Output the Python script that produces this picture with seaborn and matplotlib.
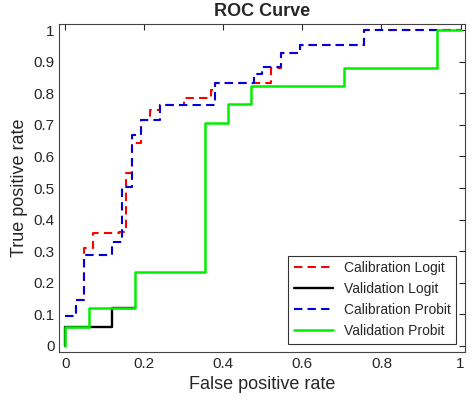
import matplotlib
matplotlib.use("Agg")
import matplotlib.pyplot as plt
import numpy as np
import seaborn as sns

# step-curve vertices (fpr, tpr)
cal_logit_fpr = [0, 0.027, 0.027, 0.0475, 0.0475, 0.07, 0.07, 0.135, 0.135, 0.155, 0.155, 0.168, 0.168, 0.193, 0.193, 0.215, 0.215, 0.24, 0.24, 0.30, 0.30, 0.37, 0.37, 0.38, 0.38, 0.52, 0.52, 0.547, 0.547, 0.593, 0.593, 0.755, 0.755, 1]
cal_logit_tpr = [0.093, 0.093, 0.146, 0.146, 0.31, 0.31, 0.357, 0.357, 0.36, 0.36, 0.547, 0.547, 0.643, 0.643, 0.715, 0.715, 0.747, 0.747, 0.763, 0.763, 0.785, 0.785, 0.81, 0.81, 0.833, 0.833, 0.88, 0.88, 0.929, 0.929, 0.952, 0.952, 1, 1]
cal_probit_fpr = [0, 0.027, 0.027, 0.0475, 0.0475, 0.118, 0.118, 0.143, 0.143, 0.168, 0.168, 0.193, 0.193, 0.239, 0.239, 0.38, 0.38, 0.477, 0.477, 0.4975, 0.4975, 0.547, 0.547, 0.593, 0.593, 0.755, 0.755, 1]
cal_probit_tpr = [0.093, 0.093, 0.146, 0.146, 0.288, 0.288, 0.33, 0.33, 0.504, 0.504, 0.668, 0.668, 0.715, 0.715, 0.763, 0.763, 0.833, 0.833, 0.86, 0.86, 0.884, 0.884, 0.929, 0.929, 0.952, 0.952, 1, 1]
val_logit_fpr = [0, 0, 0.118, 0.118, 0.176]
val_logit_tpr = [0, 0.059, 0.059, 0.118, 0.118]
val_probit_fpr = [0, 0, 0.059, 0.059, 0.176, 0.176, 0.353, 0.353, 0.412, 0.412, 0.471, 0.471, 0.706, 0.706, 0.941, 0.941, 1]
val_probit_tpr = [0, 0.059, 0.059, 0.118, 0.118, 0.235, 0.235, 0.706, 0.706, 0.765, 0.765, 0.824, 0.824, 0.882, 0.882, 1, 1]

sns.set_style("white")
plt.rcParams['font.family'] = ['Liberation Sans', 'DejaVu Sans']

fig, ax = plt.subplots(figsize=(4.74, 4.0), dpi=100)
sns.lineplot(x=cal_logit_fpr, y=cal_logit_tpr, sort=False, estimator=None, ax=ax, color='#ff0000', ls=(0, (4, 2.5)), lw=1.5, label='Calibration Logit')
sns.lineplot(x=val_logit_fpr, y=val_logit_tpr, sort=False, estimator=None, ax=ax, color='black', lw=1.7, label='Validation Logit')
sns.lineplot(x=cal_probit_fpr, y=cal_probit_tpr, sort=False, estimator=None, ax=ax, color='#0000dd', ls=(0, (4, 2.5)), lw=1.5, label='Calibration Probit')
sns.lineplot(x=val_probit_fpr, y=val_probit_tpr, sort=False, estimator=None, ax=ax, color='#00ee00', lw=1.8, label='Validation Probit')

ax.set_xlim(-0.015, 1.01)
ax.set_ylim(-0.02, 1.02)
ax.set_xticks(np.arange(0, 1.01, 0.2))
ax.set_xticklabels(['0', '0.2', '0.4', '0.6', '0.8', '1'])
ax.set_yticks(np.arange(0, 1.01, 0.1))
ax.set_yticklabels(['0'] + ['%.1f' % v for v in np.arange(0.1, 0.95, 0.1)] + ['1'])
ax.tick_params(direction='in', length=4, labelsize=11, top=True, right=True, labeltop=False, labelright=False)
for s in ax.spines.values():
    s.set_color('#444444')
ax.set_xlabel('False positive rate', fontsize=13)
ax.set_ylabel('True positive rate', fontsize=13)
ax.set_title('ROC Curve', fontsize=13, fontweight='bold')
leg = ax.legend(loc='lower right', fontsize=10, frameon=True, fancybox=False, edgecolor='black', handlelength=2.8, borderaxespad=0.6)
leg.get_frame().set_linewidth(0.8)
plt.subplots_adjust(left=0.125, right=0.98, bottom=0.12, top=0.94)
fig.savefig('out.png', dpi=100)
